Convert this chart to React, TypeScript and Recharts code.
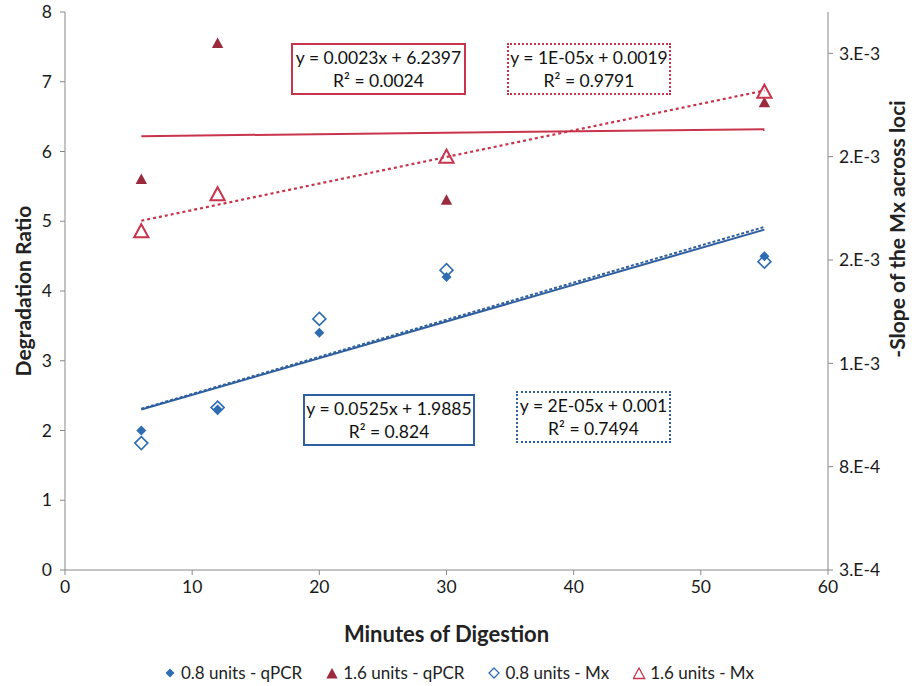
import React from 'react'
import {
  ComposedChart,
  Scatter,
  Line,
  XAxis,
  YAxis,
  Legend,
} from 'recharts'

const FONT = 'Lato, "Liberation Sans", sans-serif'

const BLUE = '#2f6db3'
const BLUE_LINE = '#2f5f9f'
const DARK_RED = '#9a2a3c'
const RED = '#c8344c'

// minutes of digestion
const xTicks = [0, 10, 20, 30, 40, 50, 60]
const leftTicks = [0, 1, 2, 3, 4, 5, 6, 7, 8]
const rightTicks = [0.0003, 0.0008, 0.0013, 0.0018, 0.0023, 0.0028]
const rightTickLabels = ['3.E-4', '8.E-4', '1.E-3', '2.E-3', '2.E-3', '3.E-3']

// degradation ratio (left axis)
const qpcr08 = [
  { x: 6, y: 2.0 },
  { x: 12, y: 2.3 },
  { x: 20, y: 3.4 },
  { x: 30, y: 4.2 },
  { x: 55, y: 4.5 },
]
const qpcr16 = [
  { x: 6, y: 5.6 },
  { x: 12, y: 7.55 },
  { x: 30, y: 5.3 },
  { x: 55, y: 6.7 },
]

// slope of Mx (right axis)
const mx08 = [
  { x: 6, y: 0.000914 },
  { x: 12, y: 0.001086 },
  { x: 20, y: 0.001515 },
  { x: 30, y: 0.001751 },
  { x: 55, y: 0.001792 },
]
const mx16 = [
  { x: 6, y: 0.001937 },
  { x: 12, y: 0.002116 },
  { x: 30, y: 0.002298 },
  { x: 55, y: 0.002612 },
]

// trendline ends
const trendQpcr08 = [
  { x: 6, y: 2.3 },
  { x: 55, y: 4.88 },
]
const trendQpcr16 = [
  { x: 6, y: 6.22 },
  { x: 55, y: 6.32 },
]
const trendMx08 = [
  { x: 6, y: 0.00108 },
  { x: 55, y: 0.00196 },
]
const trendMx16 = [
  { x: 6, y: 0.00199 },
  { x: 55, y: 0.00262 },
]

const legendItems = [
  { label: '0.8 units - qPCR', kind: 'diamond', hollow: false },
  { label: '1.6 units - qPCR', kind: 'triangle', hollow: false },
  { label: '0.8 units - Mx', kind: 'diamond', hollow: true },
  { label: '1.6 units - Mx', kind: 'triangle', hollow: true },
]

const equations = [
  { line1: 'y = 0.0023x + 6.2397', line2: 'R² = 0.0024', color: RED, dotted: false, left: 291, top: 43, width: 175 },
  { line1: 'y = 1E-05x + 0.0019', line2: 'R² = 0.9791', color: RED, dotted: true, left: 507, top: 43, width: 164 },
  { line1: 'y = 0.0525x + 1.9885', line2: 'R² = 0.824', color: BLUE_LINE, dotted: false, left: 303, top: 394, width: 172 },
  { line1: 'y = 2E-05x + 0.001', line2: 'R² = 0.7494', color: BLUE_LINE, dotted: true, left: 516, top: 391, width: 155 },
]

function diamondPath(cx: number, cy: number, r: number): string {
  return `M${cx},${cy - r}L${cx + r},${cy}L${cx},${cy + r}L${cx - r},${cy}Z`
}

function trianglePath(cx: number, cy: number, r: number): string {
  return `M${cx},${cy - r}L${cx + r * 0.95},${cy + r * 0.75}L${cx - r * 0.95},${cy + r * 0.75}Z`
}

const FilledDiamond = (p: any) => <path d={diamondPath(p.cx, p.cy, 5)} fill={BLUE} />
const HollowDiamond = (p: any) => (
  <path d={diamondPath(p.cx, p.cy, 6.5)} fill="none" stroke={BLUE} strokeWidth={1.6} />
)
const FilledTriangle = (p: any) => <path d={trianglePath(p.cx, p.cy, 6)} fill={DARK_RED} />
const HollowTriangle = (p: any) => (
  <path d={trianglePath(p.cx, p.cy, 7.5)} fill="none" stroke={RED} strokeWidth={2} />
)

function LegendSymbol({ kind, hollow }: { kind: string; hollow: boolean }) {
  const color = kind === 'diamond' ? BLUE : hollow ? RED : DARK_RED
  const d = kind === 'diamond' ? diamondPath(6, 8, hollow ? 5 : 4.5) : trianglePath(6, 9, 6)
  return (
    <svg width={13} height={16} style={{ marginRight: 4 }}>
      <path
        d={d}
        fill={hollow ? 'none' : color}
        stroke={hollow ? color : 'none'}
        strokeWidth={1.3}
      />
    </svg>
  )
}

function ChartLegend() {
  return (
    <div
      style={{
        display: 'flex',
        justifyContent: 'center',
        gap: 24,
        fontFamily: FONT,
        fontSize: 17,
        color: '#222',
        paddingTop: 12,
      }}
    >
      {legendItems.map((it) => (
        <span key={it.label} style={{ display: 'flex', alignItems: 'center' }}>
          <LegendSymbol kind={it.kind} hollow={it.hollow} />
          {it.label}
        </span>
      ))}
    </div>
  )
}

const titleStyle = { fontSize: 21, fontWeight: 700, fill: '#222', fontFamily: FONT }

function RightTitle(props: any) {
  const vb = props.viewBox
  const x = vb.x + vb.width - 22
  const y = vb.y + vb.height / 2 - 62
  return (
    <text x={x} y={y} transform={`rotate(-90, ${x}, ${y})`} textAnchor="middle" dominantBaseline="central" style={titleStyle}>
      -Slope of the Mx across loci
    </text>
  )
}

function LeftTitle(props: any) {
  const vb = props.viewBox
  const x = vb.x + 22
  const y = vb.y + vb.height / 2
  return (
    <text x={x} y={y} transform={`rotate(-90, ${x}, ${y})`} textAnchor="middle" dominantBaseline="central" style={titleStyle}>
      Degradation Ratio
    </text>
  )
}

export default function App() {
  const tickStyle = { fontSize: 17.5, fill: '#1a1a1a', fontFamily: FONT }

  return (
    <div style={{ position: 'absolute', left: 0, top: 0, width: 918, height: 686, background: '#fff' }}>
      <ComposedChart width={918} height={686} margin={{ top: 12, right: 0, bottom: 0, left: 0 }}>
        <XAxis
          type="number"
          dataKey="x"
          domain={[0, 60]}
          ticks={xTicks}
          tick={tickStyle}
          tickSize={5}
          tickMargin={6}
          stroke="#888"
          height={80}
          label={{ value: 'Minutes of Digestion', position: 'insideBottom', offset: 8, style: { ...titleStyle, fontSize: 22 } }}
        />
        <YAxis
          yAxisId="left"
          type="number"
          domain={[0, 8]}
          ticks={leftTicks}
          tick={tickStyle}
          tickSize={5}
          tickMargin={8}
          stroke="#888"
          width={65}
          label={{ content: LeftTitle }}
        />
        <YAxis
          yAxisId="right"
          orientation="right"
          type="number"
          domain={[0.0003, 0.003]}
          ticks={rightTicks}
          tickFormatter={(v: number) => rightTickLabels[rightTicks.indexOf(v)] ?? ''}
          tick={tickStyle}
          tickSize={5}
          tickMargin={6}
          stroke="#888"
          width={90}
          label={{ content: RightTitle }}
        />
        <Legend verticalAlign="bottom" height={36} content={() => <ChartLegend />} />

        <Line yAxisId="left" data={trendQpcr16} dataKey="y" stroke={RED} strokeWidth={2} dot={false} isAnimationActive={false} legendType="none" />
        <Line yAxisId="right" data={trendMx16} dataKey="y" stroke={RED} strokeWidth={2.2} strokeDasharray="3 3" dot={false} isAnimationActive={false} legendType="none" />
        <Line yAxisId="left" data={trendQpcr08} dataKey="y" stroke={BLUE_LINE} strokeWidth={2} dot={false} isAnimationActive={false} legendType="none" />
        <Line yAxisId="right" data={trendMx08} dataKey="y" stroke={BLUE_LINE} strokeWidth={2} strokeDasharray="3 2" dot={false} isAnimationActive={false} legendType="none" />

        <Scatter yAxisId="left" data={qpcr08} dataKey="y" name="0.8 units - qPCR" shape={FilledDiamond} isAnimationActive={false} />
        <Scatter yAxisId="left" data={qpcr16} dataKey="y" name="1.6 units - qPCR" shape={FilledTriangle} isAnimationActive={false} />
        <Scatter yAxisId="right" data={mx08} dataKey="y" name="0.8 units - Mx" shape={HollowDiamond} isAnimationActive={false} />
        <Scatter yAxisId="right" data={mx16} dataKey="y" name="1.6 units - Mx" shape={HollowTriangle} isAnimationActive={false} />
      </ComposedChart>

      {equations.map((eq) => (
        <div
          key={eq.line1}
          style={{
            position: 'absolute',
            left: eq.left,
            top: eq.top,
            width: eq.width,
            boxSizing: 'border-box',
            border: `2px ${eq.dotted ? 'dotted' : 'solid'} ${eq.color}`,
            background: '#fff',
            fontFamily: FONT,
            fontSize: 17.5,
            lineHeight: '23px',
            color: '#111',
            textAlign: 'center',
            padding: '1px 0 1px',
            whiteSpace: 'nowrap',
          }}
        >
          <div>{eq.line1}</div>
          <div>{eq.line2}</div>
        </div>
      ))}
    </div>
  )
}
